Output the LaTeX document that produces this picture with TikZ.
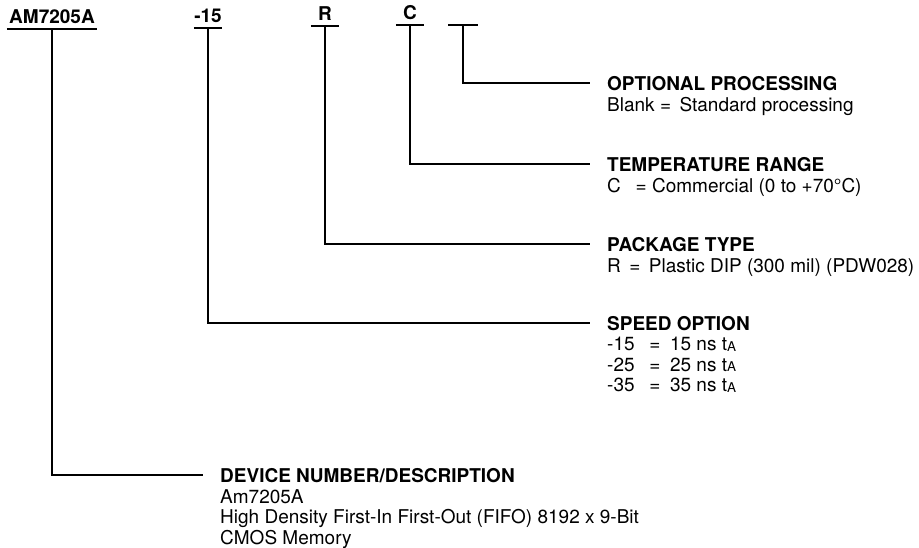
\documentclass[tikz,border=0pt]{standalone}
\usepackage{fontspec}
\setmainfont{TeX Gyre Heros}
\usetikzlibrary{positioning}
\newcommand\tA{t\raisebox{-0.3pt}{\fontsize{13.5}{13.5}\selectfont A}}

\begin{document}
\begin{tikzpicture}[x=1pt,y=-1pt]
	\tikzset{part/.style={font=\bfseries\fontsize{19}{20}\selectfont, anchor=south, inner xsep=0pt, inner ysep=5pt, text height=13pt, text depth=0pt, minimum width=28pt}}
	\tikzset{rule/.style={line width=2.6pt}}
	\tikzset{lead/.style={line width=1.8pt, shorten >=17pt}}
	\tikzset{head/.style={font=\bfseries\fontsize{19}{20}\selectfont, anchor=west, inner sep=0pt, text depth=0pt}}
	\tikzset{desc/.style={font=\fontsize{19}{20.5}\selectfont, align=left, inner sep=0pt, anchor=north west}}
	\useasboundingbox (0,0) rectangle (919,548);
	% ordering code
	\node[part, minimum width=90pt] (amL) at (52,29) {AM7205A};
	\node[part] (spdL) at (208,28) {-15};
	\node[part] (pkgL) at (325,26) {R};
	\node[part] (tmpL) at (410,25) {C};
	\node[part, minimum width=29pt] (optL) at (463,25) {};
	\foreach \n in {amL,spdL,pkgL,tmpL,optL}
		\draw[rule] (\n.south west) -- (\n.south east);
	% option blocks
	\node[head] (optH) at (607,83) {OPTIONAL PROCESSING};
	\node[desc, below=7pt of optH.south west, anchor=north west] (optD) {Blank = \,Standard processing};
	\node[head] (tmpH) at (607,164) {TEMPERATURE RANGE};
	\node[desc, below=7pt of tmpH.south west, anchor=north west] (tmpD) {C \enspace= Commercial (0 to +70°C)};
	\node[head] (pkgH) at (607,244) {PACKAGE TYPE};
	\node[desc, below=7pt of pkgH.south west, anchor=north west] (pkgD) {R \,= \,Plastic DIP (300 mil) (PDW028)};
	\node[head] (spdH) at (607,323) {SPEED OPTION};
	\node[desc, below=7pt of spdH.south west, anchor=north west] (spdD) {-15 \enspace=\enspace 15 ns \tA\\-25 \enspace=\enspace 25 ns \tA\\-35 \enspace=\enspace 35 ns \tA};
	\node[head] (devH) at (220,475) {DEVICE NUMBER/DESCRIPTION};
	\node[desc, below=7pt of devH.south west, anchor=north west] (devD) {Am7205A\\High Density First-In First-Out (FIFO) 8192 x 9-Bit\\CMOS Memory};
	% leads
	\draw[lead] (optL.south) |- (optH.west);
	\draw[lead] (tmpL.south) |- (tmpH.west);
	\draw[lead] (pkgL.south) |- (pkgH.west);
	\draw[lead] (spdL.south) |- (spdH.west);
	\draw[lead] (amL.south) |- (devH.west);
\end{tikzpicture}
\end{document}
